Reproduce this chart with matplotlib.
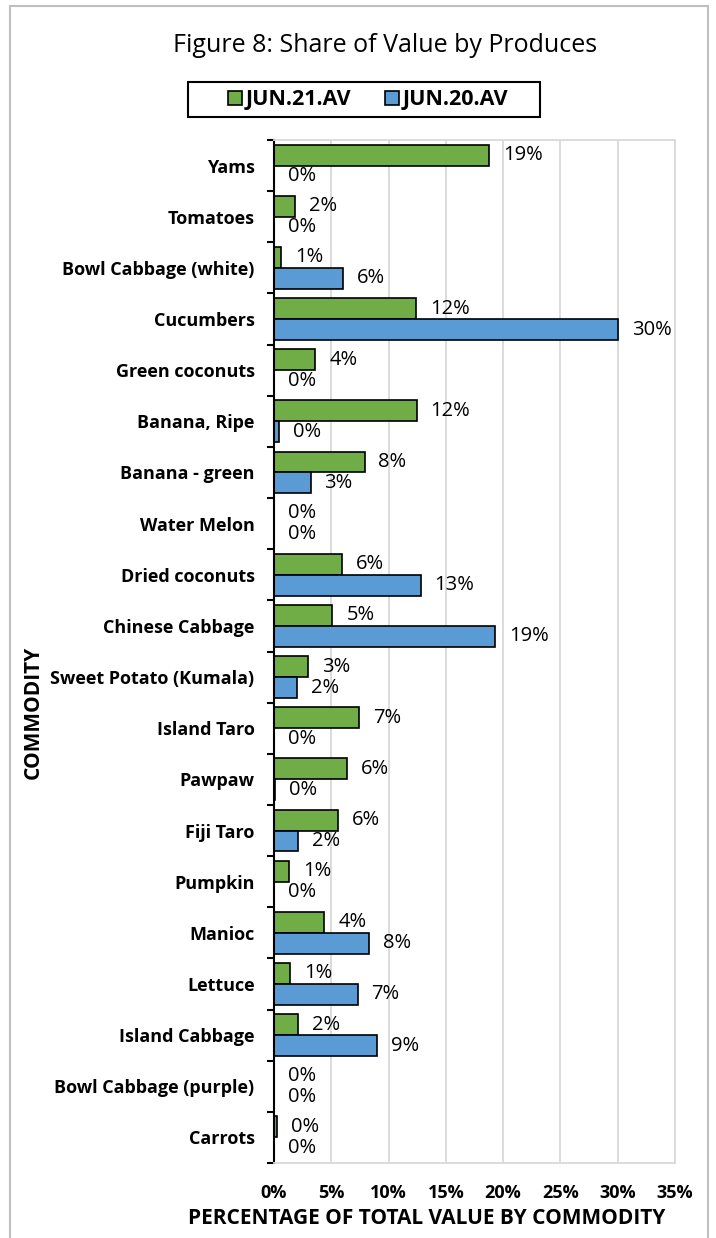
import matplotlib.pyplot as plt
import numpy as np
from matplotlib.patches import Rectangle

plt.rcParams['font.family'] = ['Open Sans', 'DejaVu Sans']

# data (percent of total value)
commodities = ['Yams', 'Tomatoes', 'Bowl Cabbage (white)', 'Cucumbers', 'Green coconuts',
               'Banana, Ripe', 'Banana - green', 'Water Melon', 'Dried coconuts',
               'Chinese Cabbage', 'Sweet Potato (Kumala)', 'Island Taro', 'Pawpaw',
               'Fiji Taro', 'Pumpkin', 'Manioc', 'Lettuce', 'Island Cabbage',
               'Bowl Cabbage (purple)', 'Carrots']
jun21 = [18.8, 1.8, 0.6, 12.4, 3.6, 12.45, 7.9, 0.0, 5.9, 5.1,
         3.0, 7.45, 6.4, 5.55, 1.3, 4.4, 1.4, 2.1, 0.0, 0.25]
jun20 = [0.0, 0.0, 6.0, 30.0, 0.0, 0.45, 3.2, 0.0, 12.8, 19.3,
         2.0, 0.0, 0.12, 2.1, 0.0, 8.3, 7.3, 9.0, 0.0, 0.0]
series_names = ['JUN.21.AV', 'JUN.20.AV']
colors = ['#70ad47', '#5b9bd5']

fig = plt.figure(figsize=(7.16, 12.38), dpi=100)
ax = fig.add_axes([274 / 716, 1 - 1163 / 1238, 401 / 716, 1023 / 1238])

y = np.arange(len(commodities))
h = 0.41
b1 = ax.barh(y - h / 2, jun21, height=h, color=colors[0], edgecolor='black',
             linewidth=1.2, label=series_names[0])
b2 = ax.barh(y + h / 2, jun20, height=h, color=colors[1], edgecolor='black',
             linewidth=1.2, label=series_names[1])

for bars, vals in [(b1, jun21), (b2, jun20)]:
    for bar, v in zip(bars, vals):
        ax.annotate(f'{v:.0f}%', (v, bar.get_y() + bar.get_height() / 2),
                    xytext=(10, 0), textcoords='offset points',
                    va='center', ha='left', fontsize=14.5)

ax.set_xlim(0, 35)
ax.set_ylim(len(commodities) - 0.5, -0.5)
ax.set_xticks(np.arange(0, 36, 5))
ax.set_xticklabels([f'{t}%' for t in range(0, 36, 5)], fontsize=13, fontweight='bold')
ax.tick_params(axis='x', length=0, pad=15)
ax.set_yticks(y)
ax.set_yticklabels(commodities, fontsize=13, fontweight='bold')
ax.tick_params(axis='y', length=0, pad=14)
ax.set_yticks(np.arange(-0.5, len(commodities)), minor=True)
ax.tick_params(axis='y', which='minor', length=5, width=1.5, direction='out')

ax.grid(axis='x', color='#d9d9d9', linewidth=1.3)
ax.set_axisbelow(True)
for s in ['top', 'right', 'bottom']:
    ax.spines[s].set_color('#d9d9d9')
    ax.spines[s].set_linewidth(1.3)
ax.spines['left'].set_color('black')
ax.spines['left'].set_linewidth(1.5)

fig.text(427 / 716, 1 - 1218 / 1238, 'PERCENTAGE OF TOTAL VALUE BY COMMODITY',
         fontsize=15, fontweight='bold', ha='center', va='center')
fig.text(33 / 716, 1 - 712 / 1238, 'COMMODITY', rotation=90, fontsize=15,
         fontweight='bold', ha='center', va='center')

fig.text(385 / 716, 1 - 45 / 1238, 'Figure 8: Share of Value by Produces',
         fontsize=18, ha='center', va='center')

leg = fig.legend(handles=[b1, b2], loc='center', bbox_to_anchor=(368 / 716, 1 - 100 / 1238),
                 ncol=2, frameon=False, prop={'weight': 'bold', 'size': 15.5},
                 handlelength=0.65, handleheight=0.65, handletextpad=0.15,
                 columnspacing=1.6)
fig.patches.append(Rectangle((188 / 716, 1 - 117 / 1238), 352 / 716, 35 / 1238,
                             transform=fig.transFigure, fill=False,
                             edgecolor='black', linewidth=1.5))

fig.patches.append(Rectangle((10 / 716, -0.01), 698 / 716, 1.005, transform=fig.transFigure,
                             fill=False, edgecolor='#bfbfbf', linewidth=1.5))

fig.savefig('out.png', dpi=100)
